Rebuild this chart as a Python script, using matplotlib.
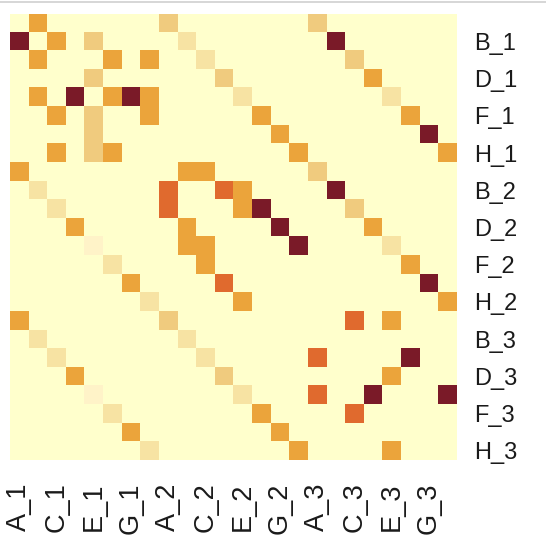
import numpy as np
import matplotlib
matplotlib.use("Agg")
import matplotlib.pyplot as plt
from matplotlib.colors import ListedColormap, BoundaryNorm
from matplotlib.lines import Line2D

plt.rcParams['font.family'] = ['Liberation Sans', 'DejaVu Sans']

# Row / column labels (A_1 ... H_3)
labels = ["A_1", "B_1", "C_1", "D_1", "E_1", "F_1", "G_1", "H_1",
          "A_2", "B_2", "C_2", "D_2", "E_2", "F_2", "G_2", "H_2",
          "A_3", "B_3", "C_3", "D_3", "E_3", "F_3", "G_3", "H_3"]

# Non-zero cells: row index, column index, value level (0..6)
cell_rows = [0, 0, 0,
             1, 1, 1, 1, 1,
             2, 2, 2, 2, 2,
             3, 3, 3,
             4, 4, 4, 4, 4, 4, 4,
             5, 5, 5, 5, 5,
             6, 6, 6,
             7, 7, 7, 7, 7,
             8, 8, 8, 8,
             9, 9, 9, 9, 9,
             10, 10, 10, 10, 10,
             11, 11, 11, 11,
             12, 12, 12, 12, 12,
             13, 13, 13,
             14, 14, 14,
             15, 15, 15,
             16, 16, 16, 16,
             17, 17,
             18, 18, 18, 18,
             19, 19, 19,
             20, 20, 20, 20, 20,
             21, 21, 21,
             22, 22,
             23, 23, 23]
cell_cols = [1, 8, 16,
             0, 2, 4, 9, 17,
             1, 5, 7, 10, 18,
             4, 11, 19,
             1, 3, 5, 6, 7, 12, 20,
             2, 4, 7, 13, 21,
             4, 14, 22,
             2, 4, 5, 15, 23,
             0, 9, 10, 16,
             1, 8, 11, 12, 17,
             2, 8, 12, 13, 18,
             3, 9, 14, 19,
             4, 9, 10, 15, 20,
             5, 10, 21,
             6, 11, 22,
             7, 12, 23,
             0, 8, 18, 20,
             1, 9,
             2, 10, 16, 21,
             3, 11, 20,
             4, 12, 16, 19, 23,
             5, 13, 18,
             6, 14,
             7, 15, 20]
cell_levels = [4, 3, 3,
               6, 4, 3, 2, 6,
               4, 4, 4, 2, 3,
               3, 3, 4,
               4, 6, 4, 6, 4, 2, 2,
               4, 3, 4, 4, 4,
               3, 4, 6,
               4, 3, 4, 4, 4,
               4, 4, 4, 3,
               2, 5, 5, 4, 6,
               2, 5, 4, 6, 3,
               4, 4, 6, 4,
               1, 4, 4, 6, 2,
               2, 4, 4,
               4, 5, 6,
               2, 4, 4,
               4, 3, 5, 4,
               2, 2,
               2, 2, 5, 6,
               4, 3, 4,
               1, 2, 5, 6, 6,
               2, 4, 5,
               4, 4,
               2, 4, 4]

palette = ["#FFFFCC", "#FFF3C8", "#F7E3A3", "#F0CB7E",
           "#EBA43B", "#E06A2E", "#7A1A28"]

n = len(labels)
mat = np.zeros((n, n))
for r, c, v in zip(cell_rows, cell_cols, cell_levels):
    mat[r, c] = v

W, H = 546, 552
fig = plt.figure(figsize=(W / 100, H / 100), dpi=100)
ax = fig.add_axes([10 / W, (H - 460) / H, 446.5 / W, 446.5 / H])

cmap = ListedColormap(palette)
norm = BoundaryNorm(np.arange(-0.5, len(palette) + 0.5, 1), cmap.N)
ax.imshow(mat, cmap=cmap, norm=norm, interpolation="nearest", aspect="auto")

for s in ax.spines.values():
    s.set_visible(False)

ax.yaxis.tick_right()
ax.set_yticks(range(1, n, 2))
ax.set_yticklabels(labels[1::2], fontsize=17, color="#1a1a1a")
ax.set_xticks(range(0, n, 2))
ax.set_xticklabels(labels[0::2], fontsize=19.5, rotation=90, color="#1a1a1a")
ax.tick_params(axis="both", length=0)
ax.tick_params(axis="y", pad=13)
ax.tick_params(axis="x", pad=16)

# thin grey rule at the very top of the image
fig.add_artist(Line2D([0, 1], [1 - 1.5 / H, 1 - 1.5 / H], color="#d0d0d0", lw=1.2))

fig.savefig("out.png", dpi=100, facecolor="white")
